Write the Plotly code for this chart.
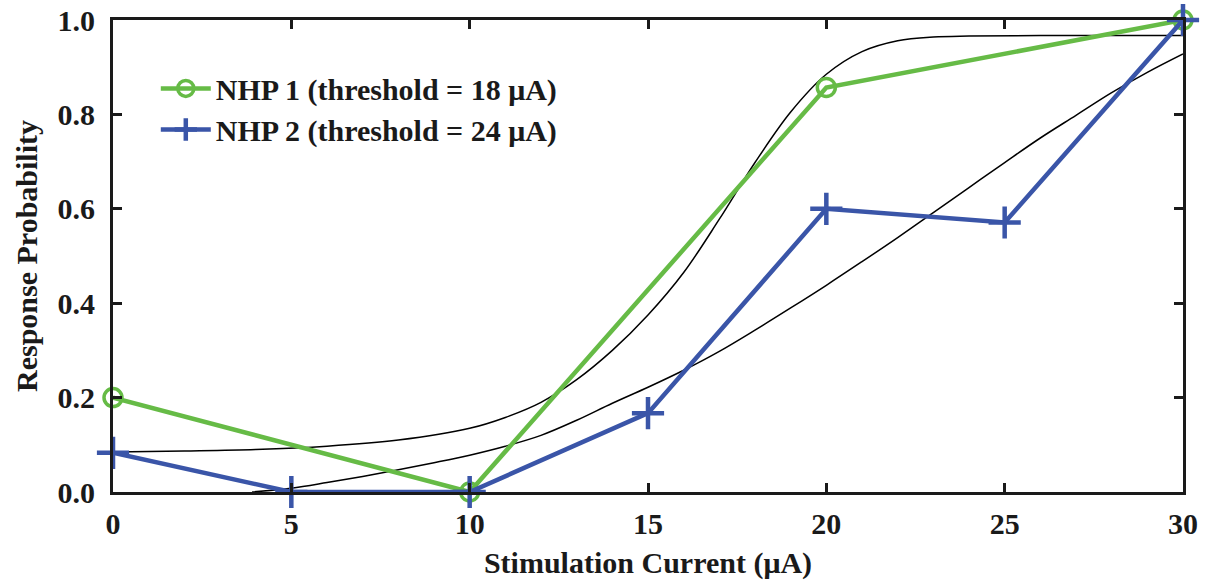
import plotly.graph_objects as go

# Measured response probabilities
nhp1_x = [0, 10, 20, 30]
nhp1_y = [0.2, 0.0, 0.857, 1.0]
nhp2_x = [0, 5, 10, 15, 20, 25, 30]
nhp2_y = [0.083, 0.0, 0.0, 0.167, 0.6, 0.571, 1.0]

# Fitted psychometric curves
fit1_x = [0, 2, 4, 6, 8, 10, 11, 12, 13, 14, 15, 16, 17, 18, 19, 20, 21, 22, 23, 24, 26, 28, 30]
fit1_y = [0.085, 0.087, 0.09, 0.097, 0.11, 0.135, 0.158, 0.19, 0.238, 0.30, 0.375, 0.465, 0.578, 0.698,
          0.805, 0.885, 0.933, 0.956, 0.964, 0.966, 0.967, 0.967, 0.967]
fit2_x = [3.9, 5, 6, 7, 8, 9, 10, 11, 12, 13, 14, 15, 16, 17, 18, 19, 20, 21, 22, 23, 24, 25, 26,
          27, 28, 29, 30]
fit2_y = [0.0, 0.008, 0.02, 0.033, 0.047, 0.062, 0.078, 0.097, 0.12, 0.152, 0.188, 0.222, 0.258, 0.298,
          0.343, 0.39, 0.438, 0.488, 0.539, 0.592, 0.645, 0.698, 0.75, 0.798, 0.846, 0.889, 0.928]

x_ticks = [0, 5, 10, 15, 20, 25, 30]
y_ticks = [0.0, 0.2, 0.4, 0.6, 0.8, 1.0]

GREEN = "#66bb46"
BLUE = "#3a55a8"
INK = "#1a1a1a"
FONT = "Liberation Serif"

fig = go.Figure()
fig.add_trace(go.Scatter(x=fit1_x, y=fit1_y, mode="lines", line=dict(color="black", width=1.5, shape="spline"),
                         showlegend=False, hoverinfo="skip"))
fig.add_trace(go.Scatter(x=fit2_x, y=fit2_y, mode="lines", line=dict(color="black", width=1.5, shape="spline"),
                         showlegend=False, hoverinfo="skip"))
fig.add_trace(go.Scatter(x=nhp1_x, y=nhp1_y, mode="lines+markers", name="<b>NHP 1 (threshold = 18 μA)</b>",
                         line=dict(color=GREEN, width=4.5),
                         marker=dict(symbol="circle-open", size=18, color=GREEN, line=dict(width=3.5, color=GREEN)),
                         cliponaxis=False, legend="legend"))
fig.add_trace(go.Scatter(x=nhp2_x, y=nhp2_y, mode="lines+markers", name="<b>NHP 2 (threshold = 24 μA)</b>",
                         line=dict(color=BLUE, width=4.5),
                         marker=dict(symbol="cross-thin-open", size=23, color=BLUE, line=dict(width=4.5, color=BLUE)),
                         cliponaxis=False, legend="legend2"))

axis_common = dict(showline=True, linecolor=INK, linewidth=3, mirror="ticks", ticks="inside",
                   ticklen=9, tickwidth=3, tickcolor=INK, showgrid=False, zeroline=False,
                   automargin=False, ticklabeloverflow="allow",
                   tickfont=dict(family=FONT, size=30, color=INK))

fig.update_layout(
    width=1206, height=580,
    margin=dict(l=113, r=23, t=20, b=88),
    paper_bgcolor="white", plot_bgcolor="white",
    font=dict(family=FONT, color=INK),
    xaxis=dict(range=[0, 30], tickvals=x_ticks, ticktext=[f"<b>{v}</b>" for v in x_ticks],
               ticklabelstandoff=3,
               title=dict(text="<b>Stimulation Current (μA)</b>", font=dict(family=FONT, size=30), standoff=24),
               **axis_common),
    yaxis=dict(range=[0, 1.0], tickvals=y_ticks, ticktext=[f"<b>{v:.1f}</b>" for v in y_ticks],
               ticklabelstandoff=9,
               title=dict(text="<b>Response Probability</b>", font=dict(family=FONT, size=30), standoff=12),
               **axis_common),
    legend=dict(x=0.04, y=0.855, xanchor="left", yanchor="middle", bgcolor="rgba(0,0,0,0)",
                font=dict(family=FONT, size=30, color=INK), itemwidth=50),
    legend2=dict(x=0.04, y=0.768, xanchor="left", yanchor="middle", bgcolor="rgba(0,0,0,0)",
                 font=dict(family=FONT, size=30, color=INK), itemwidth=50),
)

fig.write_html("out.html", config={"displayModeBar": False},
               post_script="document.body.style.margin='0';document.body.style.overflow='hidden';")
